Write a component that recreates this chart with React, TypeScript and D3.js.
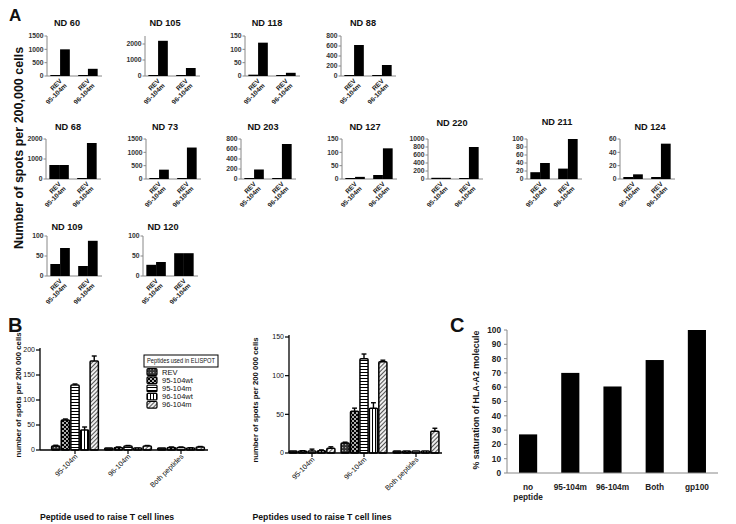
import React from "react";
import * as d3 from "d3";

const FONT = "'Liberation Sans', Arial, Helvetica, sans-serif";

// ---------------- Panel A data ----------------
const ndDonors = ["ND 60", "ND 105", "ND 118", "ND 88", "ND 68", "ND 73", "ND 203", "ND 127", "ND 220", "ND 211", "ND 124", "ND 109", "ND 120"];
const aGroups = ["95-104m", "96-104m"];
const aSeries = ["REV", "peptide"];
const revIn95 = [10, 20, 5, 5, 700, 10, 5, 2, 30, 17, 3, 30, 28];
const pepIn95 = [1000, 2200, 125, 620, 700, 350, 190, 8, 30, 40, 7, 70, 35];
const revIn96 = [10, 30, 3, 5, 50, 10, 5, 15, 20, 26, 3, 25, 57];
const pepIn96 = [270, 500, 12, 220, 1800, 1180, 700, 115, 800, 100, 53, 88, 57];
const aYMax = [1500, 2500, 150, 800, 2000, 1500, 800, 150, 1000, 100, 60, 100, 100];
const aYStep = [500, 1000, 50, 200, 1000, 500, 200, 50, 200, 20, 20, 50, 50];
const aYTop = [1500, 2000, 150, 800, 2000, 1500, 800, 150, 1000, 100, 60, 100, 100];

// layout for panel A (axis x, row, title centre, title shift)
const aLayout = [
  { x: 47, row: 0, tx: 67, ty: 0 }, { x: 145, row: 0, tx: 165, ty: 0 }, { x: 245, row: 0, tx: 267, ty: 0 }, { x: 341, row: 0, tx: 363, ty: 0 },
  { x: 46, row: 1, tx: 68, ty: 0 }, { x: 146, row: 1, tx: 165, ty: 0 }, { x: 241, row: 1, tx: 263, ty: 0 }, { x: 342, row: 1, tx: 365, ty: 0 },
  { x: 428, row: 1, tx: 452, ty: -4 }, { x: 527, row: 1, tx: 557, ty: -5 }, { x: 620, row: 1, tx: 650, ty: 0 },
  { x: 47, row: 2, tx: 67, ty: 0 }, { x: 143, row: 2, tx: 163, ty: 0 },
];
const aRowBase = [76, 179, 276];
const aTitleBase = [26, 130, 230];

// ---------------- Panel B data ----------------
const bSeries = ["REV", "95-104wt", "95-104m", "96-104wt", "96-104m"];
const bGroups = ["95-104m", "96-104m", "Both peptides"];
const leftRaised95 = [8, 60, 130, 40, 178];
const leftRaised96 = [2, 5, 8, 3, 8];
const leftRaisedBoth = [2, 5, 5, 4, 6];
const leftErr95 = [1.5, 2, 2, 6, 10];
const leftErr96 = [0.5, 1, 1, 0.5, 1];
const leftErrBoth = [0.5, 1, 1, 0.5, 1];
const rightRaised95 = [1, 2, 2, 3, 6];
const rightRaised96 = [13, 54, 122, 58, 118];
const rightRaisedBoth = [1, 0.3, 0.5, 1, 28];
const rightErr95 = [0.5, 1, 3, 1, 2];
const rightErr96 = [1, 4, 6, 7, 2];
const rightErrBoth = [0.5, 0.3, 0.5, 0.5, 4];
const leftTicks = [0, 50, 100, 150, 200];
const rightTicks = [0, 50, 100, 150];

// ---------------- Panel C data ----------------
const cCategories = ["no peptide", "95-104m", "96-104m", "Both", "gp100"];
const cValues = [27, 70, 60.5, 79, 100];
const cTicks = [0, 10, 20, 30, 40, 50, 60, 70, 80, 90, 100];

const patternIds = ["pREV", "p95wt", "p95m", "p96wt", "p96m"];

function SmallChart({ i }: { i: number }) {
  const L = aLayout[i];
  const y0 = aRowBase[L.row];
  const H = 40;
  const W = 55;
  const y = d3.scaleLinear().domain([0, aYMax[i]]).range([y0, y0 - H]);
  const ticks = d3.range(0, aYTop[i] + 1e-6, aYStep[i]);
  const xg = d3.scaleBand<string>().domain(aGroups).range([L.x, L.x + W - 1]).paddingInner(0.3).paddingOuter(0.12);
  const xs = d3.scaleBand<string>().domain(aSeries).range([0, xg.bandwidth()]);
  const vals = [[revIn95[i], pepIn95[i]], [revIn96[i], pepIn96[i]]];
  return (
    <g>
      <text x={L.tx} y={aTitleBase[L.row] + L.ty} textAnchor="middle" fontSize={9.2} fontWeight="bold" fill="#111">{ndDonors[i]}</text>
      <line x1={L.x} x2={L.x} y1={y0} y2={y0 - H} stroke="#888" strokeWidth={1} />
      <line x1={L.x} x2={L.x + W} y1={y0} y2={y0} stroke="#888" strokeWidth={1} />
      {ticks.map((t) => (
        <g key={t}>
          <line x1={L.x - 2.5} x2={L.x} y1={y(t)} y2={y(t)} stroke="#888" />
          <text x={L.x - 3.5} y={y(t)} dy="0.35em" textAnchor="end" fontSize={6.8} fontWeight="bold" fill="#333">{t}</text>
        </g>
      ))}
      {aGroups.map((g, gi) => (
        <g key={g}>
          {aSeries.map((s, si) => {
            const v = vals[gi][si];
            const top = Math.min(y(v), y0 - 1);
            return <rect key={s} x={(xg(g) as number) + (xs(s) as number)} y={top} width={xs.bandwidth()} height={y0 - top} fill="#000" />;
          })}
          <g transform={`translate(${(xg(g) as number) + xg.bandwidth() / 2 + 1},${y0 + 4}) rotate(-45)`}>
            <text textAnchor="end" fontSize={6.6} fontWeight="bold" fill="#222">
              <tspan x={0} dy="0.3em">REV</tspan>
              <tspan x={0} dy="1em">{g}</tspan>
            </text>
          </g>
        </g>
      ))}
    </g>
  );
}

function ElispotChart(props: {
  axisX: number; base: number; top: number; yMax: number; ticks: number[];
  gRange: [number, number]; xEnd: number; data: number[][]; errs: number[][];
  xLabel: string; xLabelX: number; yLabelX: number; yLabelY: number;
}) {
  const { axisX, base, top, yMax, ticks, gRange, xEnd, data, errs } = props;
  const y = d3.scaleLinear().domain([0, yMax]).range([base, top]);
  const xg = d3.scaleBand<string>().domain(bGroups).range(gRange).paddingInner(0.1).paddingOuter(0.05);
  const xs = d3.scaleBand<string>().domain(bSeries).range([0, xg.bandwidth()]).paddingInner(0.14).paddingOuter(0.05);
  return (
    <g>
      <text transform={`translate(${props.yLabelX},${props.yLabelY}) rotate(-90)`} textAnchor="middle" fontSize={7.8} fontWeight="bold" fill="#111">number of spots per 200 000 cells</text>
      {ticks.map((t) => (
        <g key={t}>
          <line x1={axisX - 4} x2={axisX} y1={y(t)} y2={y(t)} stroke="#000" strokeWidth={1.2} />
          <text x={axisX - 5} y={y(t)} dy="0.35em" textAnchor="end" fontSize={7} fill="#111">{t}</text>
        </g>
      ))}
      {bGroups.map((g, gi) => (
        <g key={g}>
          {bSeries.map((s, si) => {
            const v = data[gi][si];
            const e = errs[gi][si];
            const bx = (xg(g) as number) + (xs(s) as number);
            const bw = xs.bandwidth();
            const yt = Math.min(y(v), base - 2);
            const ye = y(v + e);
            return (
              <g key={s}>
                <line x1={bx + bw / 2} x2={bx + bw / 2} y1={yt} y2={ye} stroke="#000" strokeWidth={1.4} />
                <line x1={bx + bw * 0.2} x2={bx + bw * 0.8} y1={ye} y2={ye} stroke="#000" strokeWidth={1.4} />
                <rect x={bx} y={yt} width={bw} height={base - yt} fill={`url(#${patternIds[si]})`} stroke="#000" strokeWidth={1.5} rx={1} />
              </g>
            );
          })}
          <line x1={(xg(g) as number) + xg.bandwidth() / 2} x2={(xg(g) as number) + xg.bandwidth() / 2} y1={base} y2={base + 4} stroke="#000" strokeWidth={1.2} />
          <text transform={`translate(${(xg(g) as number) + xg.bandwidth() / 2 + 3},${base + 7}) rotate(-45)`} textAnchor="end" fontSize={7.2} fill="#111">{g}</text>
        </g>
      ))}
      <line x1={axisX} x2={axisX} y1={base} y2={top - 2} stroke="#000" strokeWidth={1.3} />
      <line x1={axisX} x2={xEnd} y1={base} y2={base} stroke="#000" strokeWidth={1.5} />
      <text x={props.xLabelX} y={520} textAnchor="middle" fontSize={8.7} fontWeight="bold" fill="#111">{props.xLabel}</text>
    </g>
  );
}

function PanelB() {
  const legendY0 = 372;
  return (
    <g>
      <text x={8} y={332} fontSize={20} fontWeight="bold" fill="#111">B</text>
      <ElispotChart axisX={40} base={450} top={350} yMax={200} ticks={leftTicks} gRange={[48.5, 207.5]} xEnd={208}
        data={[leftRaised95, leftRaised96, leftRaisedBoth]} errs={[leftErr95, leftErr96, leftErrBoth]}
        xLabel="Peptide used to raise T cell lines" xLabelX={107} yLabelX={21} yLabelY={395} />
      <ElispotChart axisX={289} base={453} top={337} yMax={150} ticks={rightTicks} gRange={[286, 442]} xEnd={442}
        data={[rightRaised95, rightRaised96, rightRaisedBoth]} errs={[rightErr95, rightErr96, rightErrBoth]}
        xLabel="Peptides used to raise T cell lines" xLabelX={322} yLabelX={258} yLabelY={400} />
      <rect x={144} y={355} width={74} height={12} fill="#fff" stroke="#000" strokeWidth={1} />
      <text x={181} y={361} dy="0.35em" textAnchor="middle" fontSize={6.4} fill="#111" textLength={68} lengthAdjust="spacingAndGlyphs">Peptides used in ELISPOT</text>
      {bSeries.map((s, si) => (
        <g key={s}>
          <rect x={147} y={legendY0 + si * 8.2 - 3.3} width={10} height={6.6} fill={`url(#${patternIds[si]})`} stroke="#000" strokeWidth={1.2} rx={1} />
          <text x={162} y={legendY0 + si * 8.2} dy="0.35em" fontSize={7.5} fill="#111">{s}</text>
        </g>
      ))}
    </g>
  );
}

function PanelC() {
  const axisX = 507;
  const base = 473;
  const y = d3.scaleLinear().domain([0, 100]).range([base, 330]);
  const x = d3.scaleBand<string>().domain(cCategories).range([axisX, 718]).paddingInner(0.57).paddingOuter(0.285);
  return (
    <g>
      <text x={450} y={332} fontSize={20} fontWeight="bold" fill="#111">C</text>
      <text transform={`translate(479,400) rotate(-90)`} textAnchor="middle" fontSize={8.8} fontWeight="bold" fill="#111">% saturation of HLA-A2 molecule</text>
      {cTicks.map((t) => (
        <g key={t}>
          <line x1={axisX - 3} x2={axisX} y1={y(t)} y2={y(t)} stroke="#888" />
          <text x={axisX - 6} y={y(t)} dy="0.35em" textAnchor="end" fontSize={8.3} fontWeight="bold" fill="#222">{t}</text>
        </g>
      ))}
      {cCategories.map((c, ci) => (
        <g key={c}>
          <rect x={x(c) as number} y={y(cValues[ci])} width={x.bandwidth()} height={base - y(cValues[ci])} fill="#000" />
          <text x={(x(c) as number) + x.bandwidth() / 2} y={490} textAnchor="middle" fontSize={8.3} fontWeight="bold" fill="#222">
            {c === "no peptide" ? (
              <>
                <tspan x={(x(c) as number) + x.bandwidth() / 2} dy="0">no</tspan>
                <tspan x={(x(c) as number) + x.bandwidth() / 2} dy="1.2em">peptide</tspan>
              </>
            ) : c}
          </text>
        </g>
      ))}
      <line x1={axisX} x2={axisX} y1={base} y2={330} stroke="#888" />
      <line x1={axisX} x2={718} y1={base} y2={base} stroke="#888" />
    </g>
  );
}

export default function App() {
  return (
    <svg width={736} height={524} style={{ position: "absolute", left: 0, top: 0 }} fontFamily={FONT}>
      <defs>
        <pattern id="pREV" width="3" height="3" patternUnits="userSpaceOnUse">
          <rect width="3" height="3" fill="#333" />
          <rect width="1.2" height="1.2" fill="#aaa" />
        </pattern>
        <pattern id="p95wt" width="4" height="4" patternUnits="userSpaceOnUse">
          <rect width="4" height="4" fill="#000" />
          <circle cx="1" cy="1" r="0.9" fill="#fff" />
          <circle cx="3" cy="3" r="0.9" fill="#fff" />
        </pattern>
        <pattern id="p95m" width="3" height="3" patternUnits="userSpaceOnUse">
          <rect width="3" height="3" fill="#fff" />
          <rect y="0" width="3" height="1" fill="#000" />
        </pattern>
        <pattern id="p96wt" width="3" height="3" patternUnits="userSpaceOnUse">
          <rect width="3" height="3" fill="#fff" />
          <rect x="0" width="1" height="3" fill="#000" />
        </pattern>
        <pattern id="p96m" width="3" height="3" patternUnits="userSpaceOnUse" patternTransform="rotate(45)">
          <rect width="3" height="3" fill="#eee" />
          <rect x="0" width="1" height="3" fill="#555" />
        </pattern>
      </defs>
      <rect width={736} height={524} fill="#fff" />
      {/* Panel A */}
      <text x={9} y={21} fontSize={17} fontWeight="bold" fill="#111">A</text>
      <text transform="translate(23,148) rotate(-90)" textAnchor="middle" fontSize={12.5} fontWeight="bold" fill="#111">Number of spots per 200,000 cells</text>
      {ndDonors.map((_, i) => <SmallChart key={i} i={i} />)}
      <PanelB />
      <PanelC />
    </svg>
  );
}
